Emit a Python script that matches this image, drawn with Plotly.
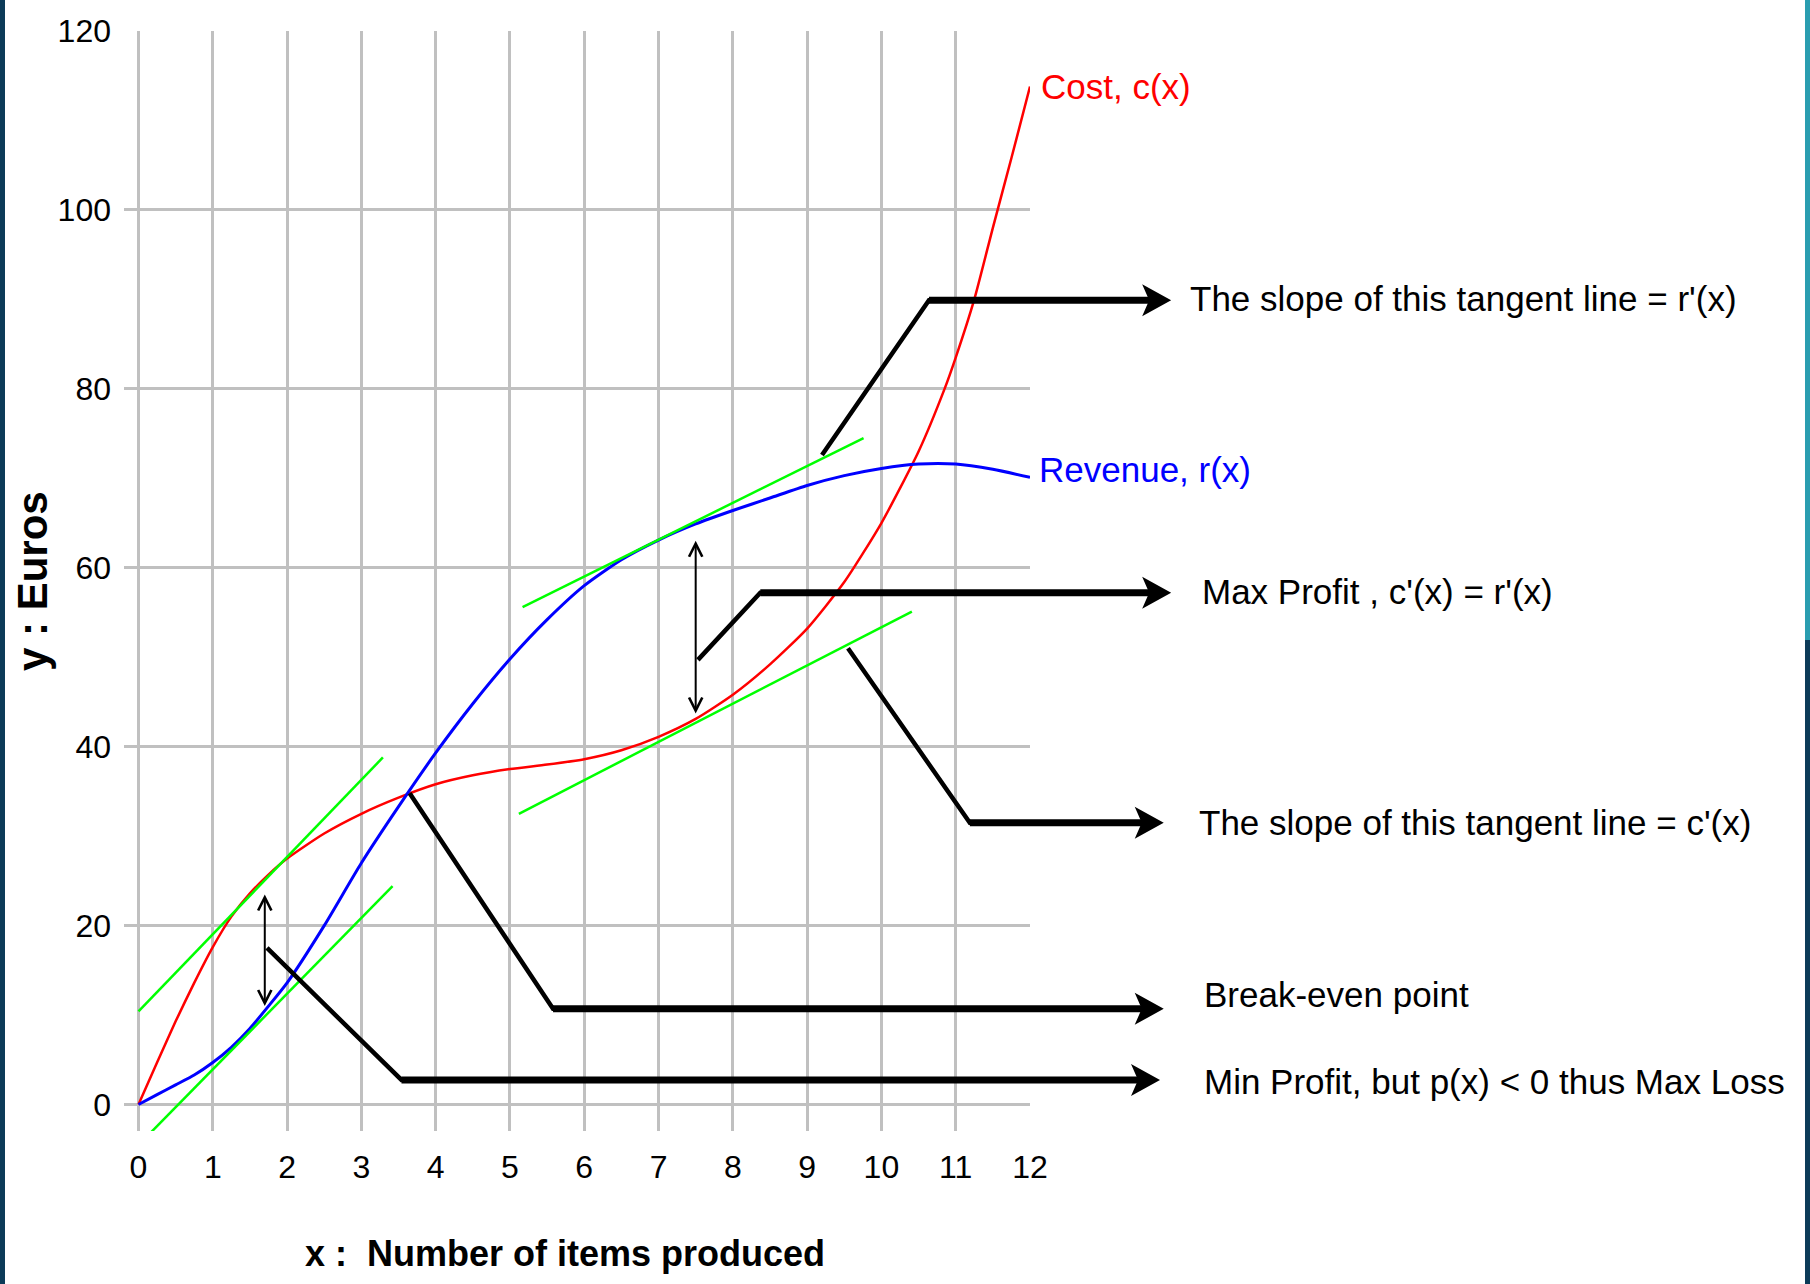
import plotly.graph_objects as go

# ---------------- data ----------------
cost_x = [0, 0.25, 0.5, 0.75, 1, 1.25, 1.5, 1.75, 2, 2.5, 3, 3.5, 4, 4.5, 5, 5.5, 6,
          6.5, 7, 7.5, 8, 8.5, 9, 9.5, 10, 10.5, 10.85, 11, 11.25, 11.5, 11.75, 12]
cost_y = [0, 4.7, 9.3, 13.6, 17.6, 21.0, 23.6, 25.7, 27.5, 30.3, 32.5, 34.3, 35.8, 36.8,
          37.5, 38.0, 38.6, 39.6, 41.1, 43.1, 45.8, 49.2, 53.2, 58.4, 65.0, 73.0, 80.0,
          83.5, 90.0, 98.0, 105.8, 113.8]

rev_x = [0, 0.25, 0.5, 0.75, 1, 1.25, 1.5, 1.75, 2, 2.5, 3, 3.5, 4, 4.5, 5, 5.5, 6,
         6.5, 7, 7.5, 8, 8.5, 9, 9.5, 10, 10.5, 11, 11.5, 12]
rev_y = [0, 1.1, 2.2, 3.3, 4.7, 6.4, 8.5, 11.0, 13.6, 20.0, 27.0, 33.3, 39.3, 44.8, 49.8,
         54.2, 58.0, 60.9, 63.1, 64.9, 66.4, 67.8, 69.2, 70.3, 71.1, 71.6, 71.6, 71.0, 70.1]

# tangent lines (two end points each)
tan1_x = [0, 3.29];     tan1_y = [10.4, 38.8]    # tangent to cost, low x
tan2_x = [0.11, 3.42];  tan2_y = [-3.6, 24.4]    # tangent to revenue, low x
tan3_x = [5.17, 9.76];  tan3_y = [55.6, 74.5]    # tangent to revenue (r'(x))
tan4_x = [5.12, 10.41]; tan4_y = [32.5, 55.1]    # tangent to cost (c'(x))

x_ticks = list(range(0, 13))
y_ticks = list(range(0, 121, 20))

labels = ["The slope of this tangent line = r'(x)",
          "Max Profit , c'(x) = r'(x)",
          "The slope of this tangent line = c'(x)",
          "Break-even point",
          "Min Profit, but p(x) < 0 thus Max Loss"]

# ---------------- geometry ----------------
WIDTH, HEIGHT = 1810, 1284
L, R, T, B = 124, 780, 31, 153
PW, PH = WIDTH - L - R, HEIGHT - T - B
X0, X1 = -0.195, 12
Y0, Y1 = -2.96, 120

def dx(x):
    return (x - X0) / (X1 - X0)

def dy(y):
    return (y - Y0) / (Y1 - Y0)

FONT = "Liberation Sans, Arial, Helvetica, sans-serif"
TXT = 35

fig = go.Figure()
fig.add_trace(go.Scatter(x=cost_x, y=cost_y, mode="lines",
                         line=dict(color="#ff0000", width=2.5, shape="spline", smoothing=0.6),
                         hoverinfo="skip"))
fig.add_trace(go.Scatter(x=rev_x, y=rev_y, mode="lines",
                         line=dict(color="#0000ff", width=3, shape="spline", smoothing=0.6),
                         hoverinfo="skip"))
for tx, ty in [(tan1_x, tan1_y), (tan2_x, tan2_y), (tan3_x, tan3_y), (tan4_x, tan4_y)]:
    fig.add_trace(go.Scatter(x=tx, y=ty, mode="lines", line=dict(color="#00ff00", width=2.5),
                             hoverinfo="skip"))

shapes = []
annotations = []

# leader lines: start point on chart, bend, arrow tip x, label y, label x
leaders = [
    ((9.2, 72.6), (10.64, 89.9), 13.9, 90.1, 14.13),
    ((7.53, 49.7), (8.37, 57.2), 13.9, 57.3, 14.29),
    ((9.55, 51.0), (11.19, 31.5), 13.8, 31.5, 14.25),
    ((3.65, 34.8), (5.58, 10.7), 13.8, 12.3, 14.31),
    ((1.73, 17.5), (3.54, 2.75), 13.75, 2.6, 14.31),
]
HEAD_L, HEAD_N, HEAD_H = 29, 22, 16
for i, (start, bend, tipx, texty, textx) in enumerate(leaders):
    yb = bend[1]
    tip_px = dx(tipx)
    shaft_end = tip_px - (HEAD_N - 2) / PW
    shapes.append(dict(type="path", xref="paper", yref="paper",
                       path=f"M{dx(start[0])},{dy(start[1])} L{dx(bend[0])},{dy(yb)} L{shaft_end},{dy(yb)}",
                       line=dict(color="black", width=4.5)))
    shapes.append(dict(type="line", xref="paper", yref="paper",
                       x0=dx(bend[0]), y0=dy(yb), x1=shaft_end, y1=dy(yb),
                       line=dict(color="black", width=7)))
    yp = dy(yb)
    shapes.append(dict(type="path", xref="paper", yref="paper",
                       path=(f"M{tip_px},{yp} L{tip_px - HEAD_L / PW},{yp + HEAD_H / PH} "
                             f"L{tip_px - HEAD_N / PW},{yp} L{tip_px - HEAD_L / PW},{yp - HEAD_H / PH} Z"),
                       fillcolor="black", line=dict(width=0)))
    annotations.append(dict(xref="paper", yref="paper", x=dx(textx), y=dy(texty),
                            xanchor="left", yanchor="middle",
                            text=labels[i], showarrow=False,
                            font=dict(family=FONT, size=TXT, color="black")))

# double headed thin arrows
for xa, ylo, yhi in [(1.70, 11.0, 23.65), (7.50, 43.7, 63.2)]:
    annotations.append(dict(x=xa, y=ylo, ax=xa, ay=yhi, xref="x", yref="y", axref="x", ayref="y",
                            text="", showarrow=True, arrowside="end+start",
                            arrowhead=5, startarrowhead=5, arrowsize=1.3, startarrowsize=1.3,
                            arrowwidth=2, arrowcolor="black", standoff=0, startstandoff=0))

# curve labels
annotations.append(dict(xref="paper", yref="paper", x=dx(12.12), y=dy(113.8), xanchor="left",
                        yanchor="middle", text="Cost, c(x)", showarrow=False,
                        font=dict(family=FONT, size=TXT, color="#ff0000")))
annotations.append(dict(xref="paper", yref="paper", x=dx(12.10), y=dy(71.0), xanchor="left",
                        yanchor="middle", text="Revenue, r(x)", showarrow=False,
                        font=dict(family=FONT, size=TXT, color="#0000ff")))

# axis titles
annotations.append(dict(xref="paper", yref="paper", x=0, y=0.5, xshift=-92, xanchor="center",
                        yanchor="middle", text="<b>y : Euros</b>", textangle=-90, showarrow=False,
                        font=dict(family=FONT, size=42, color="black")))
annotations.append(dict(xref="paper", yref="paper", x=0, y=0, xshift=441, yshift=-122,
                        xanchor="center", yanchor="middle",
                        text="<b>x :  Number of items produced</b>", showarrow=False,
                        font=dict(family=FONT, size=36, color="black")))

# window border slivers
shapes.append(dict(type="rect", xref="paper", yref="paper", x0=(0 - L) / PW, x1=(5 - L) / PW,
                   y0=(0 - B) / PH, y1=(HEIGHT - B) / PH, fillcolor="#0c3b58", line=dict(width=0)))
shapes.append(dict(type="rect", xref="paper", yref="paper", x0=(1805 - L) / PW, x1=(WIDTH - L) / PW,
                   y0=(HEIGHT - B - 640) / PH, y1=(HEIGHT - B) / PH, fillcolor="#2a9db0",
                   line=dict(width=0)))
shapes.append(dict(type="rect", xref="paper", yref="paper", x0=(1805 - L) / PW, x1=(WIDTH - L) / PW,
                   y0=(0 - B) / PH, y1=(HEIGHT - B - 640) / PH, fillcolor="#0c3b58",
                   line=dict(width=0)))

fig.update_layout(
    width=WIDTH, height=HEIGHT,
    margin=dict(l=L, r=R, t=T, b=B, pad=0),
    paper_bgcolor="white", plot_bgcolor="white",
    showlegend=False,
    shapes=shapes, annotations=annotations,
    xaxis=dict(range=[X0, X1], tickmode="array", tickvals=x_ticks,
               ticktext=[str(v) for v in x_ticks],
               showgrid=True, gridcolor="#c0c0c0", gridwidth=3, zeroline=False, showline=False,
               ticks="", ticklabelstandoff=14, tickfont=dict(family=FONT, size=32, color="black"),
               fixedrange=True),
    yaxis=dict(range=[Y0, Y1], tickmode="array", tickvals=y_ticks,
               ticktext=[str(v) for v in y_ticks],
               showgrid=True, gridcolor="#c0c0c0", gridwidth=3, zeroline=False, showline=False,
               ticks="", ticklabelstandoff=12, tickfont=dict(family=FONT, size=32, color="black"),
               fixedrange=True),
)

fig.write_html("out.html", config={"displayModeBar": False},
               post_script="document.body.style.margin='0px';document.body.style.overflow='hidden';")
